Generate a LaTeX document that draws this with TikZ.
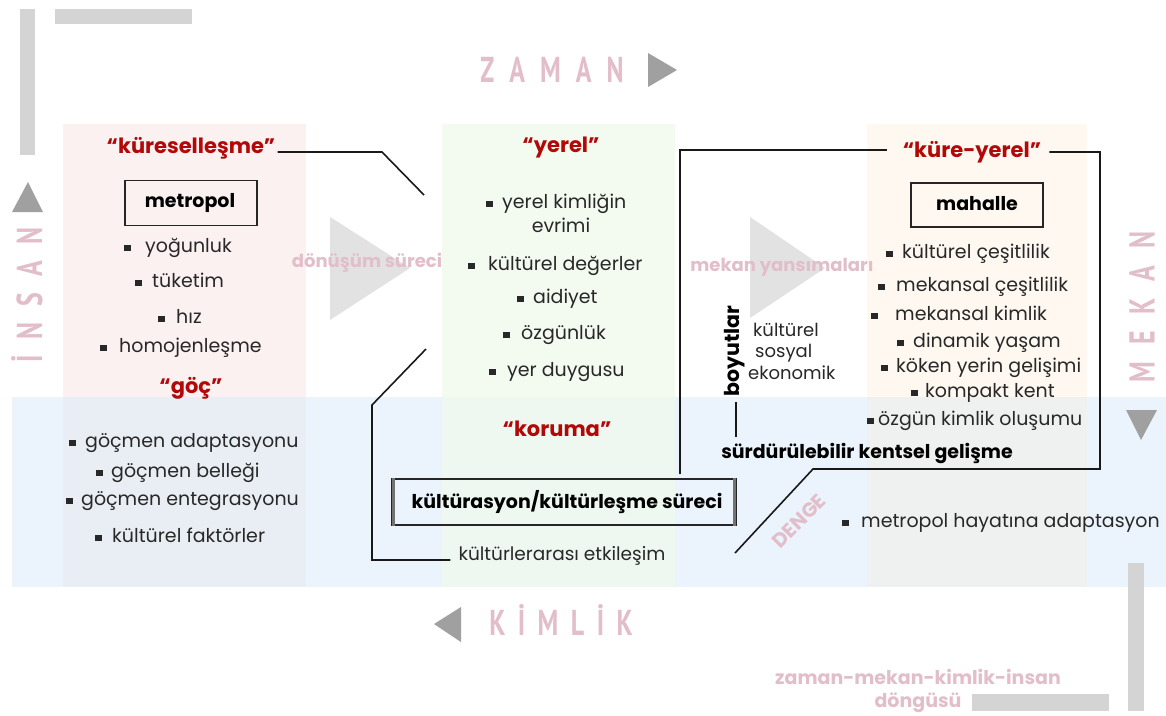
\documentclass[tikz,border=0pt]{standalone}
\usepackage{fontspec}
\setmainfont{Poppins}
\newfontfamily\condf[FakeStretch=0.72]{PT Sans}
\definecolor{pinkc}{RGB}{226,190,202}
\definecolor{redc}{RGB}{178,8,8}
\definecolor{txtc}{RGB}{40,40,40}
\definecolor{barc}{RGB}{212,212,212}
\definecolor{tric}{RGB}{160,160,160}
\definecolor{btric}{RGB}{226,226,226}
\definecolor{bandc}{RGB}{235,244,252}
\definecolor{pinkcol}{RGB}{251,241,241}
\definecolor{pinkband}{RGB}{233,238,244}
\definecolor{greencol}{RGB}{243,251,241}
\definecolor{greenband}{RGB}{238,248,240}
\definecolor{peachcol}{RGB}{254,248,241}
\definecolor{peachband}{RGB}{239,241,240}
\newcommand{\bul}{\rule[1.6pt]{6.5pt}{6.5pt}}
\newcommand{\spc}[1]{\hspace{#1pt}}
\begin{document}
\begin{tikzpicture}[x=1pt,y=-1pt,
  txt/.style={font=\fontsize{19}{22}\selectfont, text=txtc, inner sep=0pt, text height=14pt, text depth=4.5pt},
  itm/.style={txt, anchor=west},
  ttl/.style={font=\fontsize{21}{24}\selectfont\bfseries, text=redc, inner sep=0pt},
  bld/.style={font=\fontsize{19}{22}\selectfont\bfseries, text=black, inner sep=0pt},
  pnk/.style={font=\fontsize{18}{22}\selectfont\bfseries, text=pinkc, inner sep=0pt},
  big/.style={font=\condf\bfseries\fontsize{36}{40}\selectfont, text=pinkc, inner sep=0pt},
  conn/.style={draw=black!90, line width=1.6pt, line join=miter},
  lbox/.style={draw=black!85, line width=1.4pt, inner sep=0pt}
]
\useasboundingbox (0,0) rectangle (1166,715);
% backgrounds
\fill[white] (0,0) rectangle (1166,715);
\fill[bandc] (12,397) rectangle (1166,587);
\fill[pinkcol] (63,124) rectangle (306,397);
\fill[pinkband] (63,397) rectangle (306,587);
\fill[greencol] (442,124) rectangle (675,397);
\fill[greenband] (442,397) rectangle (675,587);
\fill[peachcol] (867,124) rectangle (1087,397);
\fill[peachband] (867,397) rectangle (1087,587);
% corner bars
\fill[barc] (20,9) rectangle (35,155);
\fill[barc] (55,9) rectangle (192,24);
\fill[barc] (1128,563) rectangle (1144,711);
\fill[barc] (972,694) rectangle (1109,711);
% big light triangles
\fill[btric] (330,217) -- (330,320) -- (410,268) -- cycle;
\fill[btric] (750,217) -- (750,318) -- (825,268) -- cycle;
% small gray triangles
\fill[tric] (648,53) -- (648,87) -- (677,70) -- cycle;
\fill[tric] (461,607) -- (461,642) -- (434,624) -- cycle;
\fill[tric] (12,212) -- (43,212) -- (28,182) -- cycle;
\fill[tric] (1126,410) -- (1157,410) -- (1141,440) -- cycle;
% axis words
\node[big] (zaman) at (552,70) {Z\spc{15}A\spc{15}M\spc{15}A\spc{15}N};
\node[big] (kimlik) at (561,620) {K\spc{12.5}İ\spc{12.5}M\spc{12.5}L\spc{12.5}İ\spc{12.5}K};
\node[big, rotate=90] (insan) at (27,295) {İ\spc{16}N\spc{16}S\spc{16}A\spc{16}N};
\node[big, rotate=90] (mekan) at (1142,307) {M\spc{17}E\spc{17}K\spc{17}A\spc{17}N};
% process labels
\node[pnk] (donusum) at (367,263) {dönüşüm süreci};
\node[pnk] (yansima) at (782,267) {mekan yansımaları};
\node[pnk, font=\fontsize{20}{22}\selectfont\bfseries, rotate=45] (denge) at (799,521) {DENGE};
\node[pnk, font=\fontsize{19}{22}\selectfont\bfseries] (dongu1) at (918,677) {zaman-mekan-kimlik-insan};
\node[pnk, font=\fontsize{19}{22}\selectfont\bfseries] (dongu2) at (918,703) {döngüsü};
% left column
\node[ttl] (kure) at (191,148) {“küreselleşme”};
\node[lbox, minimum width=132pt, minimum height=45pt] (metbox) at (191,203) {};
\node[bld] (metropol) at (190,203) {metropol};
\node[itm] (l1) at (124,248) {\bul\hspace{14.5pt}yoğunluk};
\node[itm] (l2) at (135,283) {\bul\hspace{10.5pt}tüketim};
\node[itm] (l3) at (158,319) {\bul\hspace{11.5pt}hız};
\node[itm] (l4) at (100,348) {\bul\hspace{12.5pt}homojenleşme};
\node[ttl] (goc) at (191,388) {“göç”};
\node[itm] (g1) at (69,443) {\bul\hspace{9.5pt}göçmen adaptasyonu};
\node[itm] (g2) at (96,473) {\bul\hspace{8.5pt}göçmen belleği};
\node[itm] (g3) at (66,501) {\bul\hspace{8.5pt}göçmen entegrasyonu};
\node[itm] (g4) at (95,538) {\bul\hspace{10.5pt}kültürel faktörler};
% middle column
\node[ttl] (yerel) at (561,148) {“yerel”};
\node[itm] (m1) at (486,204) {\bul\hspace{9.5pt}yerel kimliğin};
\node[txt] (m1b) at (561,228) {evrimi};
\node[itm] (m2) at (468,266) {\bul\hspace{13.5pt}kültürel değerler};
\node[itm] (m3) at (517,299) {\bul\hspace{9.5pt}aidiyet};
\node[itm] (m4) at (503,335) {\bul\hspace{11.5pt}özgünlük};
\node[itm] (m5) at (489,372) {\bul\hspace{11.5pt}yer duygusu};
\node[ttl] (koruma) at (557,429) {“koruma”};
\node[lbox, minimum width=344pt, minimum height=46pt] (kbox) at (564,502) {};
\draw[black!55, line width=3pt] ([xshift=2.2pt]kbox.north west) -- ([xshift=2.2pt]kbox.south west);
\draw[black!55, line width=3pt] ([xshift=-2.2pt]kbox.north east) -- ([xshift=-2.2pt]kbox.south east);
\node[bld] (kult) at (567,502) {kültürasyon/kültürleşme süreci};
\node[txt, font=\fontsize{18.5}{22}\selectfont] (etk) at (562,556) {kültürlerarası etkileşim};
% right column
\node[ttl] (kurey) at (972,152) {“küre-yerel”};
\node[lbox, minimum width=132pt, minimum height=44pt] (mahbox) at (977,205) {};
\node[bld] (mahalle) at (977,204) {mahalle};
\node[itm] (r1) at (886,254) {\bul\hspace{9.5pt}kültürel çeşitlilik};
\node[itm] (r2) at (878,287) {\bul\hspace{11.5pt}mekansal çeşitlilik};
\node[itm] (r3) at (871,316) {\bul\hspace{17.5pt}mekansal kimlik};
\node[itm] (r4) at (897,343) {\bul\hspace{9.5pt}dinamik yaşam};
\node[itm] (r5) at (881,368) {\bul\hspace{8.5pt}köken yerin gelişimi};
\node[itm] (r6) at (911,393) {\bul\hspace{7.5pt}kompakt kent};
\node[itm] (r7) at (867,421) {\bul\hspace{4.5pt}özgün kimlik oluşumu};
\node[itm] (r8) at (842,523) {\bul\hspace{12.5pt}metropol hayatına adaptasyon};
\node[bld] (surd) at (867,453) {sürdürülebilir kentsel gelişme};
\node[bld, font=\fontsize{20.5}{22}\selectfont\bfseries, rotate=90] (boy) at (735,351) {boyutlar};
\node[txt, anchor=west, font=\fontsize{18}{22}\selectfont] (d1) at (753,332) {kültürel};
\node[txt, anchor=west, font=\fontsize{18}{22}\selectfont] (d2) at (755,353) {sosyal};
\node[txt, anchor=west, font=\fontsize{18}{22}\selectfont] (d3) at (748,375) {ekonomik};
% connectors
\coordinate (c1) at (382,152);
\coordinate (c2) at (424,195);
\draw[conn] (kure.east) ++(2,4) -- (c1) -- (c2);
\coordinate (c3) at (426,349);
\coordinate (c4) at (372,405);
\coordinate (c5) at (372,560);
\draw[conn] (c3) -- (c4) -- (c5) -- ([xshift=-8pt]etk.west |- c5);
\coordinate (f1) at (680,150);
\coordinate (f2) at (887,150);
\draw[conn] (kbox.north -| f1) ++(0,-4) -- (f1) -- (f2);
\coordinate (f3) at (1100,152);
\coordinate (f4) at (1100,469);
\coordinate (f5) at (813,469);
\coordinate (f6) at (735,553);
\draw[conn] ([xshift=8pt]kurey.east |- f3) -- (f3) -- (f4) -- (f5) -- (f6);
\coordinate (b1) at (736,402);
\coordinate (b2) at (736,437);
\draw[conn] (b1) -- (b2);
\end{tikzpicture}
\end{document}
